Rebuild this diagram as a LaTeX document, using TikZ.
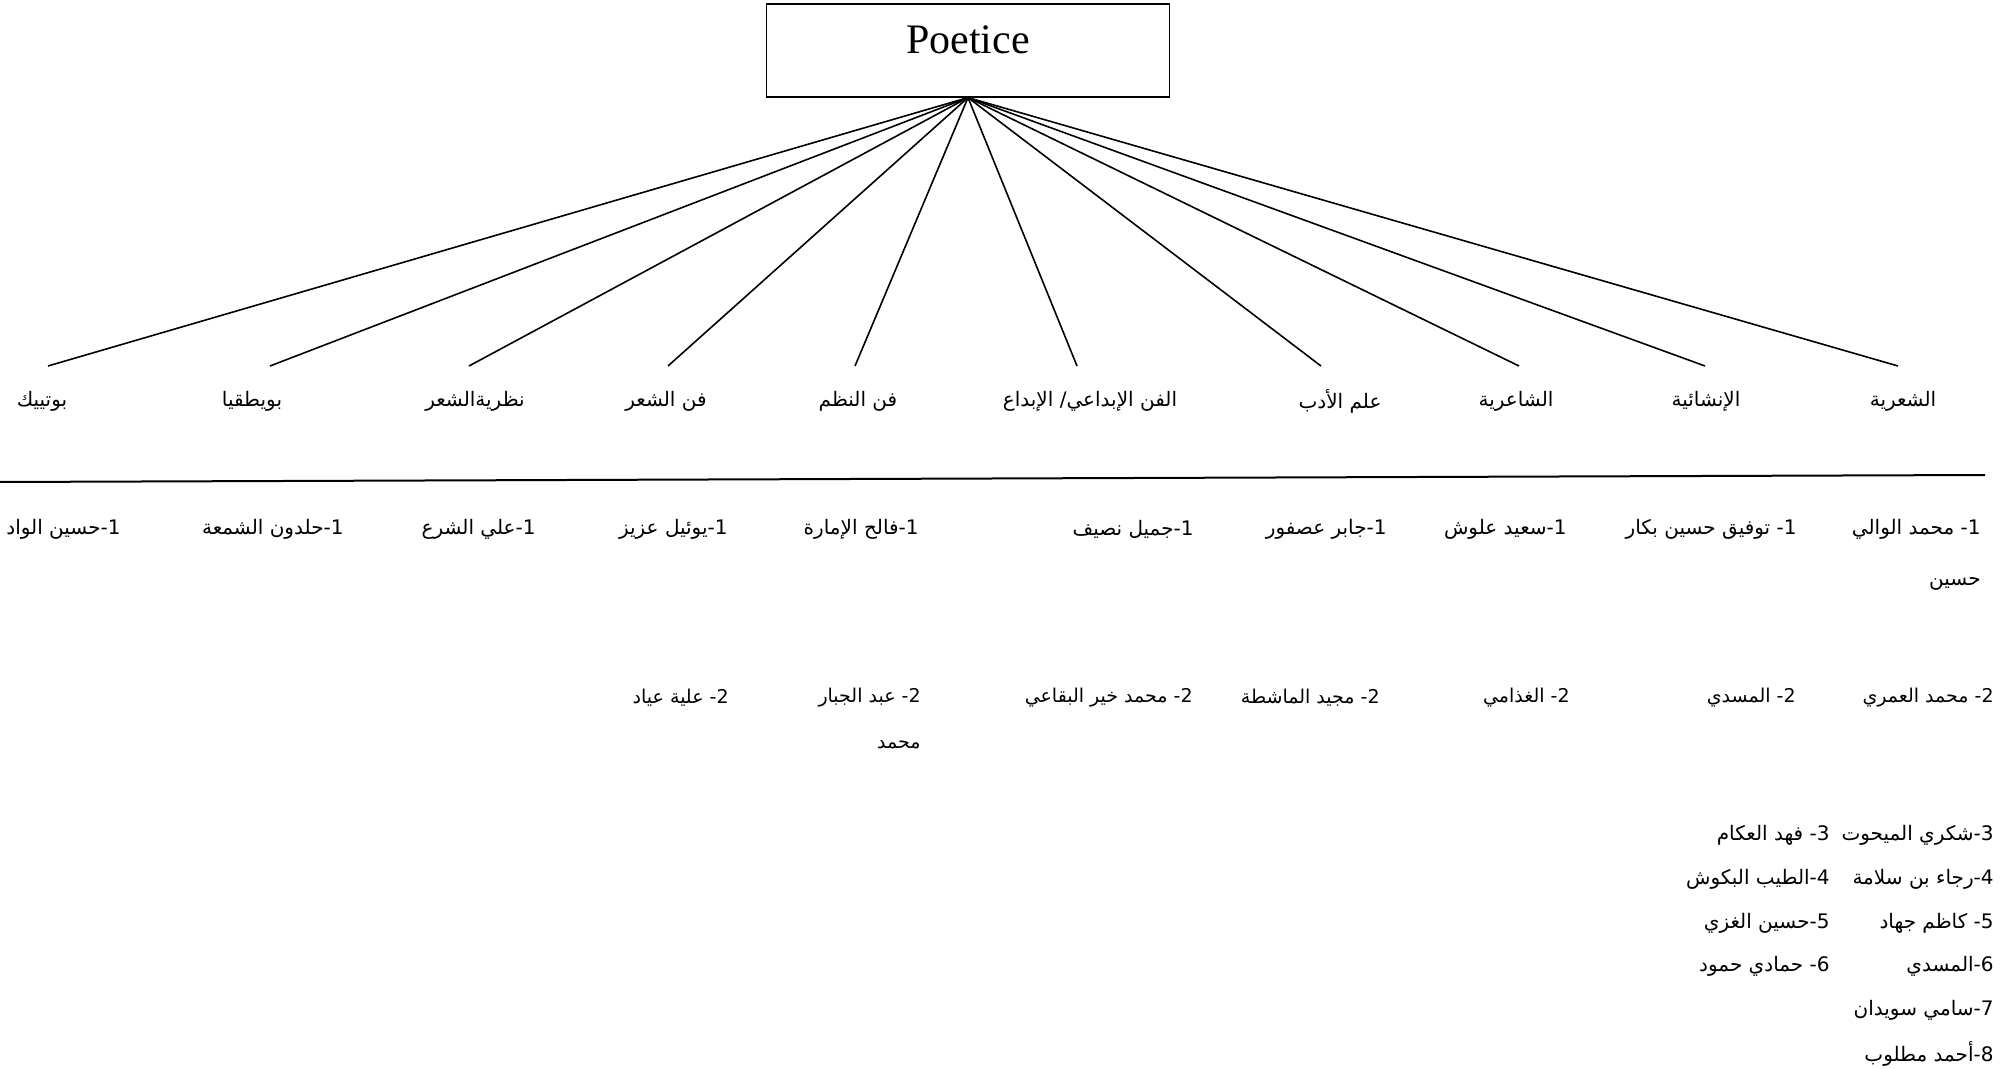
\documentclass[tikz,border=0pt]{standalone}
\usepackage{fontspec}
\setmainfont{Liberation Serif}
\newfontfamily\arabicfont[Script=Arabic]{DejaVu Sans}
\TeXXeTstate=1
\newcommand{\artxt}[1]{\beginR #1\endR}
\tikzset{
  arlabel/.style={font=\arabicfont\fontsize{10}{12}\selectfont, inner sep=0pt, anchor=center},
  arname/.style={font=\arabicfont\fontsize{10}{12}\selectfont, inner sep=0pt, anchor=east},
  arnametwo/.style={font=\arabicfont\fontsize{9.5}{11.5}\selectfont, inner sep=0pt, anchor=east},
  arlist/.style={font=\arabicfont\fontsize{10}{12}\selectfont, inner sep=0pt, anchor=east},
  conn/.style={line width=0.8pt},
}
\begin{document}
\begin{tikzpicture}[x=0.5pt,y=-0.5pt]
\useasboundingbox (0,0) rectangle (2015,1069);
\node[draw, line width=0.8pt, inner sep=0pt, minimum width=201.5pt, text height=24.75pt, text depth=21.75pt,
  font=\fontsize{21}{24}\selectfont, anchor=north] (box) at (968,3) {Poetice};

% category labels
\node[arlabel] (l1) at (42,401) {\artxt{بوتييك}};
\node[arlabel] (l2) at (252,401) {\artxt{بويطقيا}};
\node[arlabel] (l3) at (475,401) {\artxt{نظريةالشعر}};
\node[arlabel] (l4) at (666,401) {\artxt{فن الشعر}};
\node[arlabel] (l5) at (858,401) {\artxt{فن النظم}};
\node[arlabel] (l6) at (1090,401) {\artxt{الفن الإبداعي/ الإبداع}};
\node[arlabel] (l7) at (1340,401) {\artxt{علم الأدب}};
\node[arlabel] (l8) at (1516,401) {\artxt{الشاعرية}};
\node[arlabel] (l9) at (1706,401) {\artxt{الإنشائية}};
\node[arlabel] (l10) at (1903,401) {\artxt{الشعرية}};

% connector ends
\coordinate (e1) at (48,366);
\coordinate (e2) at (270,366);
\coordinate (e3) at (469,366);
\coordinate (e4) at (668,366);
\coordinate (e5) at (855,366);
\coordinate (e6) at (1077,366);
\coordinate (e7) at (1321,366);
\coordinate (e8) at (1519,366);
\coordinate (e9) at (1705,366);
\coordinate (e10) at (1898,366);
\foreach \i in {1,...,10} { \draw[conn] (box.south) -- (e\i); }

% horizontal rule
\coordinate (hl1) at (0,482);
\coordinate (hl2) at (1985,475);
\draw[line width=1pt] (hl1) -- (hl2);

% row 1
\node[arname] (a1) at (1981,529) {\artxt{1- محمد الوالي}};
\node[arname] (a1b) at (1981,584) {\artxt{حسين}};
\node[arname] (a2) at (1797,529) {\artxt{1- توفيق حسين بكار}};
\node[arname] (a3) at (1567,529) {\artxt{1-سعيد علوش}};
\node[arname] (a4) at (1387,529) {\artxt{1-جابر عصفور}};
\node[arname] (a5) at (1194,529) {\artxt{1-جميل نصيف}};
\node[arname] (a6) at (919,529) {\artxt{1-فالح الإمارة}};
\node[arname] (a7) at (728,529) {\artxt{1-يوئيل عزيز}};
\node[arname] (a8) at (536,529) {\artxt{1-علي الشرع}};
\node[arname] (a9) at (344,529) {\artxt{1-حلدون الشمعة}};
\node[arname] (a10) at (121,529) {\artxt{1-حسين الواد}};

% row 2
\node[arnametwo] (b1) at (1994,698) {\artxt{2- محمد العمري}};
\node[arnametwo] (b2) at (1796,698) {\artxt{2- المسدي}};
\node[arnametwo] (b3) at (1570,698) {\artxt{2- الغذامي}};
\node[arnametwo] (b4) at (1380,698) {\artxt{2- مجيد الماشطة}};
\node[arnametwo] (b5) at (1193,698) {\artxt{2- محمد خير البقاعي}};
\node[arnametwo] (b6) at (921,698) {\artxt{2- عبد الجبار}};
\node[arnametwo] (b6b) at (921,745) {\artxt{محمد}};
\node[arnametwo] (b7) at (729,698) {\artxt{2- علية عياد}};

% list
\node[arlist] (c3a) at (1994,835) {\artxt{3-شكري الميحوت}};
\node[arlist] (c3b) at (1830,835) {\artxt{3- فهد العكام}};
\node[arlist] (c4a) at (1994,879) {\artxt{4-رجاء بن سلامة}};
\node[arlist] (c4b) at (1830,879) {\artxt{4-الطيب البكوش}};
\node[arlist] (c5a) at (1994,923) {\artxt{5- كاظم جهاد}};
\node[arlist] (c5b) at (1830,923) {\artxt{5-حسين الغزي}};
\node[arlist] (c6a) at (1994,966) {\artxt{6-المسدي}};
\node[arlist] (c6b) at (1830,966) {\artxt{6- حمادي حمود}};
\node[arlist] (c7) at (1994,1010) {\artxt{7-سامي سويدان}};
\node[arlist] (c8) at (1994,1054) {\artxt{8-أحمد مطلوب}};
\end{tikzpicture}
\end{document}
